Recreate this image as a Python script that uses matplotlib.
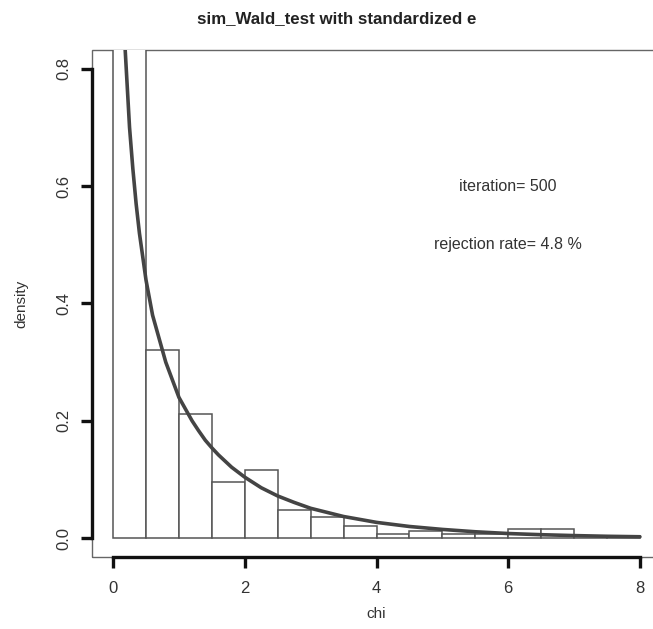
import matplotlib
matplotlib.use("Agg")
import matplotlib.pyplot as plt
from matplotlib.patches import Rectangle

# histogram (density scale, bin width 0.5)
bin_edges = [0, 0.5, 1, 1.5, 2, 2.5, 3, 3.5, 4, 4.5, 5, 5.5, 6, 6.5, 7, 7.5, 8]
densities = [1.076, 0.320, 0.212, 0.096, 0.116, 0.048, 0.036, 0.020,
             0.008, 0.012, 0.008, 0.008, 0.016, 0.016, 0.004, 0.004]

# density curve
curve_x = [0.15, 0.17, 0.2, 0.25, 0.3, 0.35, 0.4, 0.45, 0.5, 0.55, 0.6, 0.65,
           0.7, 0.75, 0.8, 0.9, 1.0, 1.1, 1.2, 1.3, 1.4, 1.5, 1.6, 1.8, 2.0,
           2.25, 2.5, 2.75, 3.0, 3.5, 4.0, 4.5, 5.0, 5.5, 6.0, 6.5, 7.0, 7.5,
           8.0]
curve_y = [0.91, 0.86, 0.80, 0.70, 0.63, 0.57, 0.52, 0.48, 0.44, 0.41, 0.38,
           0.36, 0.34, 0.32, 0.30, 0.27, 0.24, 0.22, 0.20, 0.183, 0.167, 0.154,
           0.142, 0.121, 0.104, 0.086, 0.072, 0.061, 0.051, 0.037, 0.027,
           0.020, 0.015, 0.011, 0.008, 0.006, 0.0045, 0.0033, 0.0025]

xticks = [0, 2, 4, 6, 8]
yticks = [0.0, 0.2, 0.4, 0.6, 0.8]
ytick_labels = ["0.0", "0.2", "0.4", "0.6", "0.8"]

plt.rcParams['font.family'] = ['Liberation Sans', 'DejaVu Sans']

fig = plt.figure(figsize=(6.53, 6.29), dpi=100)
ax = fig.add_axes([92 / 653, 1 - 557 / 629, 569 / 653, 507 / 629])

widths = [b - a for a, b in zip(bin_edges[:-1], bin_edges[1:])]
ax.bar(bin_edges[:-1], densities, width=widths, align='edge',
       facecolor='white', edgecolor='#555555', linewidth=1.1, zorder=2)
ax.plot(curve_x, curve_y, color='#444444', linewidth=2.6, zorder=3,
        solid_capstyle='round', solid_joinstyle='round')

ax.set_xlim(-0.32, 8.32)
ax.set_ylim(-0.032, 0.832)

# R-style box with axes drawn on its edges
for s in ['top', 'right']:
    ax.spines[s].set_visible(False)
for s in ['left', 'bottom']:
    ax.spines[s].set_color('#111111')
    ax.spines[s].set_linewidth(2.4)
ax.spines['bottom'].set_bounds(0, 8)
ax.spines['left'].set_bounds(0, 0.8)
ax.add_patch(Rectangle((0, 0), 1, 1, transform=ax.transAxes, fill=False,
                       edgecolor='#666666', linewidth=1.0, clip_on=False,
                       zorder=1))

ax.set_xticks(xticks)
ax.set_yticks(yticks)
ax.set_yticklabels(ytick_labels, rotation=90, va='center')
ax.tick_params(axis='both', direction='out', length=8, width=2.4,
               color='#111111', labelsize=12, labelcolor='#333333', pad=9)
ax.tick_params(axis='y', pad=7)

ax.set_xlabel('chi', fontsize=11, color='#333333', labelpad=8)
ax.set_ylabel('density', fontsize=11, color='#333333', labelpad=20)

ax.text(6, 0.6, 'iteration= 500', ha='center', va='center', fontsize=11.5,
        color='#333333')
ax.text(6, 0.5, 'rejection rate= 4.8 %', ha='center', va='center',
        fontsize=11.5, color='#333333')

fig.text(337 / 653, 1 - 19 / 629, 'sim_Wald_test with standardized e',
         ha='center', va='center', fontsize=12.2, fontweight='bold',
         color='#222222')

fig.savefig('out.png', dpi=100)
